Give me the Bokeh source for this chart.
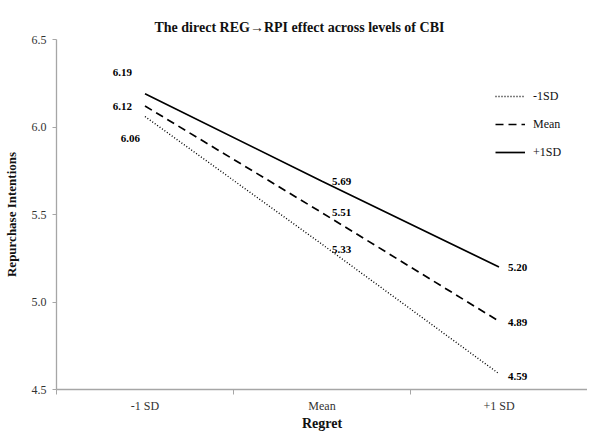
from bokeh.plotting import figure
from bokeh.models import (Range1d, FixedTicker, Legend, LegendItem, ColumnDataSource,
                          NumeralTickFormatter, Title)
from bokeh.core.properties import value
from bokeh.embed import file_html
from bokeh.resources import INLINE

# ---- data ----
categories = ["-1 SD", "Mean", "+1 SD"]
series_names = ["-1SD", "Mean", "+1SD"]
minus_sd = [6.06, 5.33, 4.59]
mean_vals = [6.12, 5.51, 4.89]
plus_sd = [6.19, 5.69, 5.20]
y_ticks = [4.5, 5.0, 5.5, 6.0, 6.5]

# ---- styles ----
FONT = "Liberation Serif"
styles = {
    "-1SD": dict(line_dash="1 2", line_width=1.4),
    "Mean": dict(line_dash="8 5", line_width=1.7),
    "+1SD": dict(line_dash="solid", line_width=1.7),
}
# label offsets (px) per series, per category position: (x_offset, y_offset, align)
label_offsets = {
    "-1SD": [(-5, 22, "right"), (10, 5, "left"), (9, 3, "left")],
    "Mean": [(-13, 0, "right"), (10, 0, "left"), (9, 1, "left")],
    "+1SD": [(-13, -21, "right"), (10, 0, "left"), (9, 0, "left")],
}

xs = [i + 0.5 for i in range(len(categories))]

p = figure(width=587, height=433, output_backend="svg", toolbar_location=None,
           x_range=Range1d(0, len(categories)), y_range=Range1d(y_ticks[0], y_ticks[-1]),
           min_border_left=53, min_border_right=0, min_border_top=39, min_border_bottom=0)
p.title = Title(text="The direct REG\u2192RPI effect across levels of CBI", align="left",
                offset=98, text_font=FONT, text_font_size="14px", text_font_style="bold",
                text_color="#111111")
p.outline_line_color = None
p.grid.visible = False
p.background_fill_color = "white"

# x axis
xa = p.xaxis[0]
xa.ticker = FixedTicker(ticks=xs, minor_ticks=list(range(len(categories) + 1)))
xa.major_label_overrides = {x: c for x, c in zip(xs, categories)}
xa.major_tick_line_color = None
xa.major_tick_out = 5
xa.major_tick_in = 0
xa.minor_tick_out = 5
xa.minor_tick_in = 0
xa.minor_tick_line_color = "#a6a6a6"
xa.axis_line_color = "#a6a6a6"
xa.axis_line_width = 1.3
xa.major_label_text_font = FONT
xa.major_label_text_font_size = "12px"
xa.major_label_text_color = "#333333"
xa.major_label_standoff = 4
xa.axis_label = "Regret"
xa.axis_label_text_font = FONT
xa.axis_label_text_font_size = "14px"
xa.axis_label_text_font_style = "bold"
xa.axis_label_text_color = "#111111"
xa.axis_label_standoff = 0

# y axis
ya = p.yaxis[0]
ya.ticker = FixedTicker(ticks=y_ticks, minor_ticks=[])
ya.formatter = NumeralTickFormatter(format="0.0")
ya.major_tick_out = 4
ya.major_tick_in = 0
ya.major_tick_line_color = "#a6a6a6"
ya.axis_line_color = "#a6a6a6"
ya.axis_line_width = 1.3
ya.major_label_text_font = FONT
ya.major_label_text_font_size = "12px"
ya.major_label_text_color = "#333333"
ya.major_label_standoff = 6
ya.axis_label = "Repurchase Intentions"
ya.axis_label_text_font = FONT
ya.axis_label_text_font_size = "13px"
ya.axis_label_text_font_style = "bold"
ya.axis_label_text_color = "#111111"
ya.axis_label_standoff = 10

items = []
for name, vals in zip(series_names, [minus_sd, mean_vals, plus_sd]):
    r = p.line(xs, vals, line_color="black", **styles[name])
    items.append(LegendItem(label=name, renderers=[r]))
    offs = label_offsets[name]
    src = ColumnDataSource(dict(x=xs, y=vals, t=[f"{v:.2f}" for v in vals],
                                xo=[o[0] for o in offs], yo=[o[1] for o in offs],
                                al=[o[2] for o in offs]))
    p.text(x="x", y="y", text="t", x_offset="xo", y_offset="yo", text_align="al",
           text_baseline="middle", text_font=value(FONT), text_font_size="11px",
           text_font_style="bold", text_color="black", source=src)

legend = Legend(items=items, location=(439, 227), orientation="vertical",
                glyph_width=30, glyph_height=20, label_height=20, label_standoff=8,
                spacing=8, padding=0, margin=0, border_line_color=None,
                background_fill_alpha=0, label_text_font=FONT, label_text_font_size="12px",
                label_text_color="#111111")
p.add_layout(legend)

open("out.html", "w").write(file_html(p, INLINE))
